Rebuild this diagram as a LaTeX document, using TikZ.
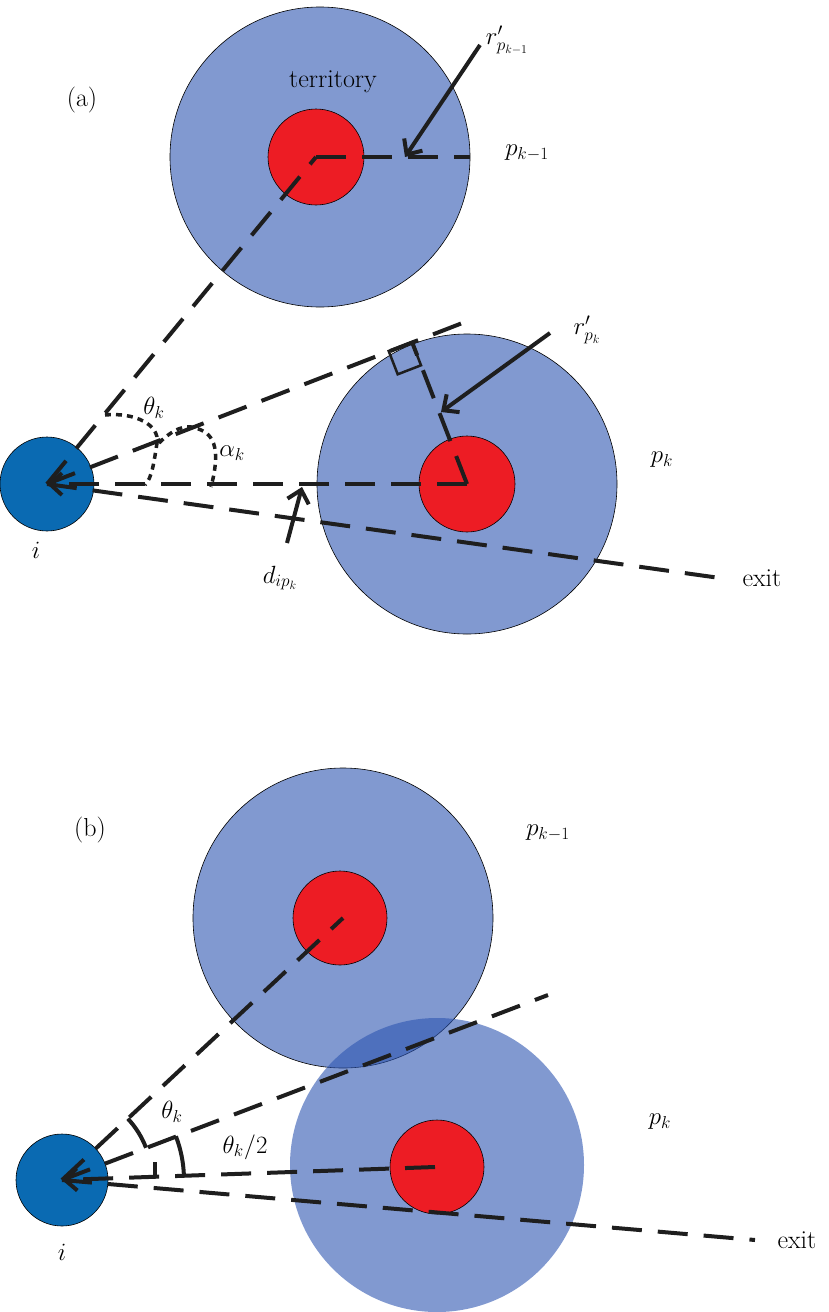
\documentclass[tikz,border=0pt]{standalone}
\usetikzlibrary{arrows.meta}
\definecolor{terr}{RGB}{129,153,208}
\definecolor{terrb}{RGB}{45,85,177}
\definecolor{core}{RGB}{237,28,36}
\definecolor{agent}{RGB}{10,106,178}
\definecolor{ink}{RGB}{30,30,30}
\begin{document}
\begin{tikzpicture}[x=1pt,y=-1pt,
  lbl/.style={font=\fontsize{26}{30}\selectfont, inner sep=0pt},
  dline/.style={ink, line width=4pt, dash pattern=on 30pt off 16pt},
  sline/.style={ink, line width=4pt},
  arr/.style={-{Straight Barb[length=12pt,width=22pt,line width=4pt]}},
  dotc/.style={ink, line width=3.5pt, dash pattern=on 6pt off 5pt},
  terrc/.style={fill=terr, draw=black, line width=0.6pt},
  corec/.style={fill=core, draw=black, line width=0.6pt},
  agentc/.style={fill=agent, draw=black, line width=0.6pt}]
\useasboundingbox (0,0) rectangle (828,1312);
% ---------- (a) ----------
\node[circle,terrc,minimum size=300pt,inner sep=0pt] (Ta) at (320,157) {};
\node[circle,corec,minimum size=96pt,inner sep=0pt] (Ca) at (316,157) {};
\node[circle,terrc,minimum size=300pt,inner sep=0pt] (Tb) at (467,484) {};
\node[circle,corec,minimum size=96pt,inner sep=0pt] (Cb) at (467,484) {};
\node[circle,agentc,minimum size=94pt,inner sep=0pt] (Ia) at (47,484) {};
\coordinate (ia) at (47,484);
\coordinate (ca) at (316,157);
\coordinate (cb) at (467,484);
\coordinate (hA) at (470,157);
\coordinate (tanA) at (465,322);
\coordinate (exA) at (720,578);
\coordinate (tp) at (412,342);
\draw[dline] (ia) -- (ca);
\draw[dline] (ca) -- (hA);
\draw[dline] (ia) -- (tanA);
\draw[dline,arr] (cb) -- (ia);
\draw[dline] (ia) -- (exA);
\draw[dline] (cb) -- (tp);
\draw[sline, line width=2.5pt] (412,342) -- (388.7,351) -- (397.7,374.3) -- (421,365.3) -- cycle;
\draw[sline,arr] (480,45) -- (405,157);
\draw[sline,arr] (550,333) -- (441,412);
\draw[sline,arr] (287,543) -- (302,487);
\draw[dotc] (105,415) .. controls (135,412) and (160,425) .. (157,443) .. controls (154,462) and (152,478) .. (145,485);
\draw[dotc] (159,443) .. controls (172,430) and (185,424) .. (195,428) .. controls (212,432) and (222,445) .. (211,487);
\node[lbl] (la) at (82,100) {(a)};
\node[lbl] (lt) at (333,82) {territory};
\node[lbl] (lr1) at (507,40) {$r'_{p_{k-1}}$};
\node[lbl] (lp1) at (527,153) {$p_{k-1}$};
\node[lbl] (lr2) at (587,330) {$r'_{p_k}$};
\node[lbl] (lp2) at (662,460) {$p_k$};
\node[lbl] (lth) at (154,408) {$\theta_k$};
\node[lbl] (lal) at (232,453) {$\alpha_k$};
\node[lbl] (li) at (36,550) {$i$};
\node[lbl] (ld) at (280,578) {$d_{ip_k}$};
\node[lbl] (lex) at (762,578) {exit};
% ---------- (b) ----------
\node[circle,terrc,minimum size=300pt,inner sep=0pt] (Tc) at (343,918) {};
\node[circle,corec,minimum size=94pt,inner sep=0pt] (Cc) at (340,918) {};
\node[circle,fill=terrb,fill opacity=0.6,minimum size=294pt,inner sep=0pt] (Td) at (437,1165) {};
\node[circle,corec,minimum size=94pt,inner sep=0pt] (Cd) at (437,1167) {};
\node[circle,agentc,minimum size=92pt,inner sep=0pt] (Ib) at (62,1180) {};
\coordinate (ib) at (62,1180);
\coordinate (cc) at (343,918);
\coordinate (cd) at (435,1167);
\coordinate (tanB) at (548,995);
\coordinate (exB) at (755,1240);
\draw[dline] (ib) -- (cc);
\draw[dline] (ib) -- (tanB);
\draw[dline,arr] (cd) -- (ib);
\draw[dline] (ib) -- (exB);
\draw[sline] (ib) ++(-43:90) arc[start angle=-43,end angle=-21,radius=90];
\draw[sline] (ib) ++(-21:122) arc[start angle=-21,end angle=-2,radius=122];
\draw[sline] (155,1162) -- (155,1178);
\node[lbl] (lb) at (90,830) {(b)};
\node[lbl] (lp3) at (548,833) {$p_{k-1}$};
\node[lbl] (lp4) at (660,1122) {$p_k$};
\node[lbl] (lth2) at (172,1112) {$\theta_k$};
\node[lbl] (lth3) at (245,1147) {$\theta_k/2$};
\node[lbl] (li2) at (62,1252) {$i$};
\node[lbl] (lex2) at (797,1240) {exit};
\end{tikzpicture}
\end{document}
